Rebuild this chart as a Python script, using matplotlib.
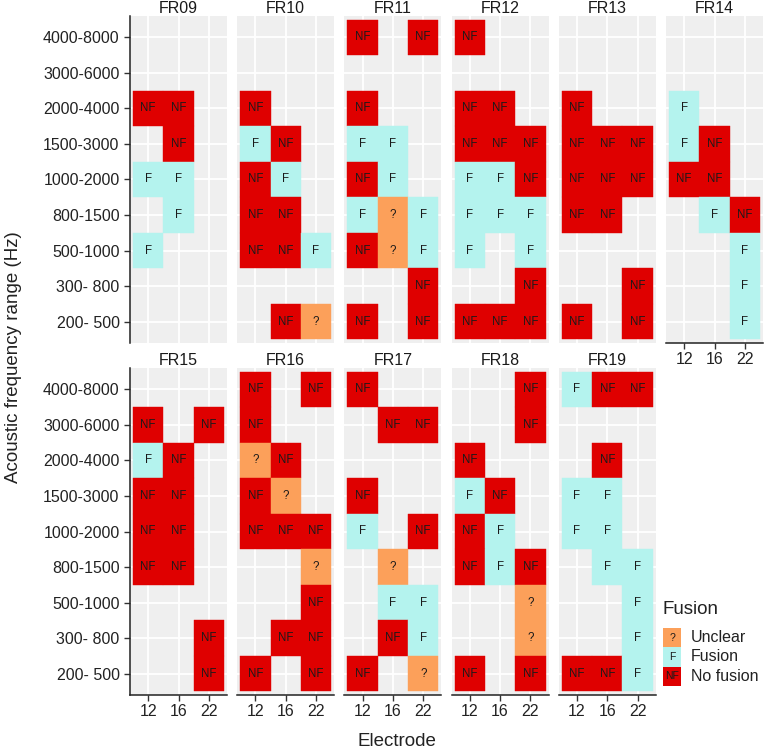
import matplotlib
matplotlib.use("Agg")
import matplotlib.pyplot as plt
from matplotlib.patches import Rectangle

plt.rcParams['font.family'] = ['Liberation Sans', 'DejaVu Sans']

electrodes = ["12", "16", "22"]
freq_ranges = ["4000-8000", "3000-6000", "2000-4000", "1500-3000", "1000-2000",
               "800-1500", "500-1000", "300- 800", "200- 500"]  # top to bottom

# codes per row (top->bottom), per electrode column 12,16,22:
# N = No fusion, F = Fusion, U = Unclear, . = not tested
FR09 = ["...", "...", "NN.", ".N.", "FF.", ".F.", "F..", "...", "..."]
FR10 = ["...", "...", "N..", "FN.", "NF.", "NN.", "NNF", "...", ".NU"]
FR11 = ["N.N", "...", "N..", "FF.", "NF.", "FUF", "NUF", "..N", "N.N"]
FR12 = ["N..", "...", "NN.", "NNN", "FFN", "FFF", "F.F", "..N", "NNN"]
FR13 = ["...", "...", "N..", "NNN", "NNN", "NN.", "...", "..N", "N.N"]
FR14 = ["...", "...", "F..", "FN.", "NN.", ".FN", "..F", "..F", "..F"]
FR15 = ["...", "N.N", "FN.", "NN.", "NN.", "NN.", "...", "..N", "..N"]
FR16 = ["N.N", "N..", "UN.", "NU.", "NNN", "..U", "..N", ".NN", "N.N"]
FR17 = ["N..", ".NN", "...", "N..", "F.N", ".U.", ".FF", ".NF", "N.U"]
FR18 = ["..N", "..N", "N..", "FN.", "NF.", "NFN", "..U", "..U", "N.N"]
FR19 = ["FNN", "...", ".N.", "FF.", "FF.", ".FF", "..F", "..F", "NNF"]

subjects = ["FR09", "FR10", "FR11", "FR12", "FR13", "FR14",
            "FR15", "FR16", "FR17", "FR18", "FR19"]
grids = [FR09, FR10, FR11, FR12, FR13, FR14, FR15, FR16, FR17, FR18, FR19]

fusion_codes = ["U", "F", "N"]
fusion_labels = ["Unclear", "Fusion", "No fusion"]
fusion_text = {"U": "?", "F": "F", "N": "NF"}
fusion_colors = {"U": "#FCA05A", "F": "#B4F3EE", "N": "#DF0000"}

W, H = 767, 751
fig = plt.figure(figsize=(W / 100, H / 100), dpi=100)

pw, ph = 97, 327
col_x = [130 + i * 107.2 for i in range(6)]
row_top = [16, 368]

cell_fs = 8.3
nrows_f = len(freq_ranges)
for k, (name, grid) in enumerate(zip(subjects, grids)):
    r, c = divmod(k, 6)
    left = col_x[c]
    top = row_top[r]
    ax = fig.add_axes([left / W, 1 - (top + ph) / H, pw / W, ph / H])
    ax.set_facecolor("#EFEFEF")
    ax.set_xlim(-0.6, 2.6)
    ax.set_ylim(-0.6, nrows_f - 0.4)
    ax.set_xticks(range(len(electrodes)))
    ax.set_yticks(range(nrows_f))
    ax.grid(True, color="white", linewidth=1.3)
    ax.set_axisbelow(True)
    for ri, rowstr in enumerate(grid):
        yv = nrows_f - 1 - ri
        for ci, code in enumerate(rowstr):
            if code == ".":
                continue
            ax.bar(ci, 1, bottom=yv - 0.5, width=1, color=fusion_colors[code],
                   edgecolor=fusion_colors[code], linewidth=0.3, zorder=2)
            ax.text(ci, yv, fusion_text[code], ha="center", va="center",
                    fontsize=cell_fs, color="#1a1a1a", zorder=3)
    for s in ["top", "right"]:
        ax.spines[s].set_visible(False)
    is_left = (c == 0)
    is_bottom = (r == 1) or (c == 5)
    ax.spines["left"].set_visible(is_left)
    ax.spines["bottom"].set_visible(is_bottom)
    for s in ["left", "bottom"]:
        ax.spines[s].set_linewidth(1.1)
        ax.spines[s].set_color("#222222")
    ax.tick_params(axis="y", length=4.5 if is_left else 0, width=1, color="#333333",
                   labelsize=11.5, labelcolor="#222222", pad=3, labelleft=is_left)
    ax.tick_params(axis="x", length=4.5 if is_bottom else 0, width=1, color="#333333",
                   labelsize=11.5, labelcolor="#222222", pad=2, labelbottom=is_bottom)
    ax.set_yticklabels(freq_ranges[::-1])
    ax.set_xticklabels(electrodes)
    ax.set_title(name, fontsize=11.5, pad=2.5, color="#1a1a1a")

fig.text(397 / W, 1 - 741 / H, "Electrode", ha="center", va="center", fontsize=13.5,
         color="#222222")
fig.text(14 / W, 1 - 357 / H, "Acoustic frequency range (Hz)", ha="center",
         va="center", rotation=90, fontsize=13.5, color="#222222")

# legend
fig.text(662 / W, 1 - 609 / H, "Fusion", ha="left", va="center", fontsize=13.5,
         color="#222222")
ky0, kh, kx, kw = 628, 19.3, 663, 18
for i, code in enumerate(fusion_codes):
    yt = ky0 + i * kh
    fig.patches.append(Rectangle((kx / W, 1 - (yt + kh) / H), kw / W, kh / H,
                                 transform=fig.transFigure, facecolor=fusion_colors[code],
                                 edgecolor="none"))
    fig.text((kx + kw / 2) / W, 1 - (yt + kh / 2) / H, fusion_text[code], ha="center",
             va="center", fontsize=7.5, color="#1a1a1a")
    fig.text(691 / W, 1 - (yt + kh / 2) / H, fusion_labels[i], ha="left", va="center",
             fontsize=11.5, color="#222222")

fig.savefig("out.png", dpi=100)
